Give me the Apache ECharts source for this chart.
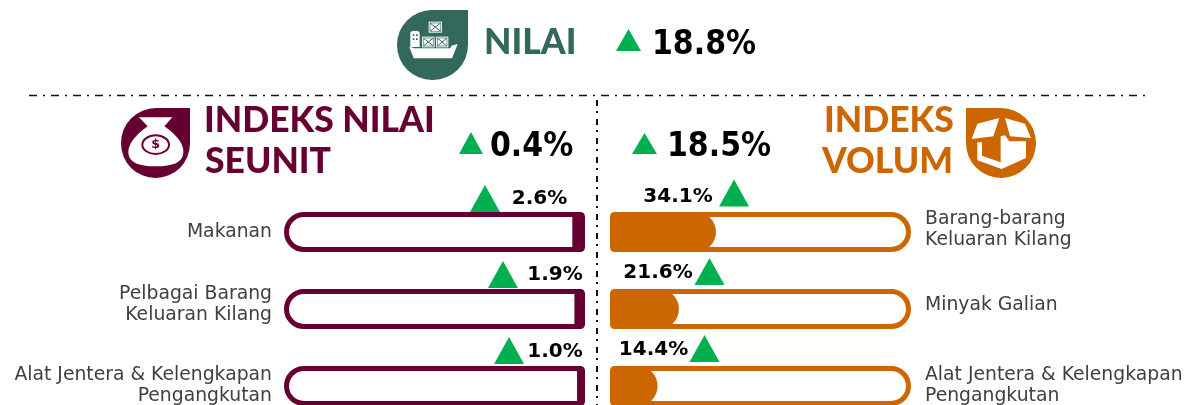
<!DOCTYPE html>
<html>
<head>
<meta charset="utf-8">
<script src="https://cdn.jsdelivr.net/npm/echarts@6/dist/echarts.min.js"></script>
<style>
  html, body { margin: 0; padding: 0; background: #fff; }
  #chart { width: 1191px; height: 405px; }
</style>
</head>
<body>
<div id="chart"></div>
<script>
  // data
  const nilaiTotal = 18.8
  const seunitTotal = 0.4
  const volumTotal = 18.5
  const seunitCategories = ['Makanan', 'Pelbagai Barang\nKeluaran Kilang', 'Alat Jentera & Kelengkapan\nPengangkutan']
  const seunitValues = [2.6, 1.9, 1.0]
  const volumCategories = ['Barang-barang\nKeluaran Kilang', 'Minyak Galian', 'Alat Jentera & Kelengkapan\nPengangkutan']
  const volumValues = [34.1, 21.6, 14.4]

  // colours
  const GREEN = '#33695a'
  const MAROON = '#660033'
  const ORANGE = '#cc6600'
  const UP = '#00b050'
  const LABEL_FONT = '"DejaVu Sans"'
  const HEAD_FONT = 'Lato'

  // offsets (px) of the arrow and the percent label from the end of each bar
  const seunitArrow = [[-87.3, -33.5], [-71.4, -34.5], [-68, -35.5]]
  const seunitText = [[-32.8, -33], [-19.4, -34], [-22, -34]]
  const volumArrow = [[18.1, -39], [30.6, -37.5], [46.9, -37.5]]
  const volumText = [[-37.9, -35], [-20.9, -36], [-4.1, -36]]
  // category labels sit a little above the bar centre
  const seunitLift = [0, 4, 0]
  const volumLift = [2.5, 4, 0.5]

  const chart = echarts.init(document.getElementById('chart'))

  // the graphic component has no plain path type, so register the icon outlines
  echarts.graphic.registerShape('bagOutline', echarts.graphic.extendPath(
    'M72 43 L172 43 L148 70 C185 95 208 125 205 150 C203 178 175 190 122 190 C70 190 42 178 40 150 C38 125 62 95 98 70 Z'
  ))
  echarts.graphic.registerShape('coinRing', echarts.graphic.extendPath(
    'M82 125 A40 28 0 1 1 162 125 A40 28 0 1 1 82 125 Z'
  ))

  /** white track behind a panel, on its own grid so the fill can start after the border */
  const trackSeries = (idx, values, color, radius) => ({
    type: 'bar',
    xAxisIndex: idx,
    yAxisIndex: idx,
    data: values.map(() => 100),
    barWidth: 40,
    silent: true,
    itemStyle: { color: '#fff', borderColor: color, borderWidth: 5, borderRadius: radius }
  })

  /** fill, arrows and percent labels of a panel */
  const panelSeries = (idx, values, color, fillRadius, arrows, texts) => [
    {
      type: 'bar',
      xAxisIndex: idx,
      yAxisIndex: idx,
      data: values,
      barWidth: 40,
      silent: true,
      itemStyle: { color: color, borderRadius: fillRadius }
    },
    {
      type: 'scatter',
      xAxisIndex: idx,
      yAxisIndex: idx,
      silent: true,
      symbol: 'triangle',
      symbolSize: [30, 27],
      itemStyle: { color: UP, opacity: 1 },
      data: values.map((v, i) => ({ value: [v, i], symbolOffset: arrows[i] })),
      z: 5
    },
    {
      type: 'scatter',
      xAxisIndex: idx,
      yAxisIndex: idx,
      silent: true,
      symbolSize: 1,
      itemStyle: { color: 'transparent', opacity: 1 },
      data: values.map((v, i) => ({
        value: [v, i],
        label: { offset: texts[i] }
      })),
      label: {
        show: true,
        position: 'inside',
        formatter: (p) => p.value[0].toFixed(1) + '%',
        fontFamily: LABEL_FONT,
        fontWeight: 'bold',
        fontSize: 20,
        color: '#000',
        textBorderWidth: 0
      },
      z: 6
    }
  ]

  const categoryAxis = (idx, names, lifts, position, margin) => {
    const rich = { t: { fontFamily: LABEL_FONT, fontSize: 18.8, lineHeight: 21, color: '#404040' } }
    lifts.forEach((l, i) => {
      rich['g' + i] = { fontSize: 1, lineHeight: l * 2 }
    })
    return {
      type: 'category',
      gridIndex: idx,
      inverse: true,
      position: position,
      data: names,
      axisLine: { show: false },
      axisTick: { show: false },
      axisLabel: {
        interval: 0,
        margin: margin,
        rich: rich,
        // a blank last line lifts the block above the bar centre
        formatter: (value, i) => {
          const lines = value.split('\n').map((l) => `{t|${l}}`).join('\n')
          return lifts[i] > 0 ? `${lines}\n{g${i}|\u00a0}` : lines
        }
      }
    }
  }
  const hiddenCategory = (idx, names) => ({ type: 'category', gridIndex: idx, inverse: true, data: names, show: false })

  const headText = (text, x, y, color) => ({
    type: 'text',
    x: x,
    y: y,
    style: { text: text, fill: color, font: `900 35.5px ${HEAD_FONT}`, textVerticalAlign: 'middle' }
  })
  const pctText = (value, x, y) => ({
    type: 'text',
    x: x,
    y: y,
    scaleY: 1.12,
    style: { text: value.toFixed(1) + '%', fill: '#000', font: `bold 30px ${LABEL_FONT}`, textVerticalAlign: 'middle' }
  })
  const upArrow = (x0, x1, y0, y1) => ({
    type: 'polygon',
    shape: { points: [[(x0 + x1) / 2, y0], [x1, y1], [x0, y1]] },
    style: { fill: UP }
  })

  // icons are authored at 3x and scaled down
  const iconGroup = (x, y, children) => ({ type: 'group', x: x, y: y, scaleX: 1 / 3, scaleY: 1 / 3, children: children })
  const poly = (points, fill) => ({ type: 'polygon', shape: { points: points }, style: { fill: fill } })
  const crate = (x, y, w, h) => ({
    type: 'group',
    children: [
      { type: 'rect', shape: { x: x, y: y, width: w, height: h }, style: { fill: '#fff' } },
      { type: 'rect', shape: { x: x + 4, y: y + 4, width: w - 8, height: h - 8 }, style: { fill: 'none', stroke: GREEN, lineWidth: 2 } },
      { type: 'line', shape: { x1: x + 4, y1: y + 4, x2: x + w - 4, y2: y + h - 4 }, style: { stroke: GREEN, lineWidth: 3 } },
      { type: 'line', shape: { x1: x + w - 4, y1: y + 4, x2: x + 4, y2: y + h - 4 }, style: { stroke: GREEN, lineWidth: 3 } }
    ]
  })

  const shipIcon = iconGroup(392, 5, [
    { type: 'rect', shape: { x: 15, y: 15, width: 213, height: 210, r: [105, 0, 105, 105] }, style: { fill: GREEN } },
    poly([[52, 125], [68, 130], [175, 130], [178, 122], [197, 117], [180, 160], [65, 160]], '#fff'),
    { type: 'rect', shape: { x: 55, y: 78, width: 28, height: 48, r: [8, 8, 0, 0] }, style: { fill: '#fff' } },
    { type: 'rect', shape: { x: 62, y: 88, width: 5, height: 5 }, style: { fill: GREEN } },
    { type: 'rect', shape: { x: 72, y: 88, width: 5, height: 5 }, style: { fill: GREEN } },
    { type: 'rect', shape: { x: 62, y: 100, width: 5, height: 5 }, style: { fill: GREEN } },
    { type: 'rect', shape: { x: 72, y: 100, width: 5, height: 5 }, style: { fill: GREEN } },
    crate(110, 50, 40, 33),
    crate(90, 95, 38, 32),
    crate(132, 95, 37, 32)
  ])

  const bagIcon = iconGroup(115, 103, [
    { type: 'rect', shape: { x: 18, y: 15, width: 207, height: 210, r: [105, 0, 105, 105] }, style: { fill: MAROON } },
    { type: 'bagOutline', style: { fill: '#fff' } },
    { type: 'coinRing', style: { fill: 'none', stroke: MAROON, lineWidth: 6 } },
    {
      type: 'text',
      x: 122,
      y: 126,
      style: { text: '$', fill: MAROON, font: `bold 38px ${LABEL_FONT}`, textAlign: 'center', textVerticalAlign: 'middle' }
    }
  ])

  const boxIcon = iconGroup(960, 103, [
    { type: 'rect', shape: { x: 18, y: 15, width: 210, height: 210, r: [0, 105, 105, 105] }, style: { fill: ORANGE } },
    poly([[52, 62], [118, 45], [100, 100], [35, 108]], '#fff'),
    poly([[135, 45], [195, 62], [213, 105], [150, 100]], '#fff'),
    poly([[135, 97], [148, 115], [198, 115], [198, 165], [125, 198], [52, 172], [52, 118], [66, 118], [66, 158], [122, 178], [122, 100]], '#fff')
  ])

  const graphics = [
    { type: 'line', shape: { x1: 29, y1: 95.5, x2: 1148, y2: 95.5 }, style: { stroke: '#111', lineWidth: 1.5, lineDash: [8, 6, 2, 6] } },
    { type: 'line', shape: { x1: 597, y1: 100, x2: 597, y2: 405 }, style: { stroke: '#111', lineWidth: 2, lineDash: [6, 5, 2, 6] } },
    shipIcon,
    bagIcon,
    boxIcon,
    headText('NILAI', 484, 43, GREEN),
    upArrow(616, 641, 29, 51),
    pctText(nilaiTotal, 652, 45),
    headText('INDEKS NILAI', 204, 121, MAROON),
    headText('SEUNIT', 205, 162, MAROON),
    upArrow(459, 483, 132, 154),
    pctText(seunitTotal, 490, 147),
    upArrow(632, 657, 133, 154),
    pctText(volumTotal, 667, 147),
    headText('INDEKS', 824, 121, ORANGE),
    headText('VOLUM', 822, 162, ORANGE)
  ]

  const rowGrid = (left, width) => ({ left: left, top: 193.5, width: width, height: 231, outerBoundsMode: 'none' })

  chart.setOption({
    animation: false,
    backgroundColor: '#fff',
    grid: [rowGrid(284, 296), rowGrid(615, 296), rowGrid(284, 301), rowGrid(610, 301)],
    xAxis: [
      { type: 'value', gridIndex: 0, min: 0, max: 100, inverse: true, show: false },
      { type: 'value', gridIndex: 1, min: 0, max: 100, show: false },
      { type: 'value', gridIndex: 2, min: 0, max: 100, inverse: true, show: false },
      { type: 'value', gridIndex: 3, min: 0, max: 100, show: false }
    ],
    yAxis: [
      categoryAxis(0, seunitCategories, seunitLift, 'left', 12),
      categoryAxis(1, volumCategories, volumLift, 'right', 14),
      hiddenCategory(2, seunitCategories),
      hiddenCategory(3, volumCategories)
    ],
    series: [
      trackSeries(2, seunitValues, MAROON, [20, 2, 2, 20]),
      trackSeries(3, volumValues, ORANGE, [2, 20, 20, 2]),
      ...panelSeries(0, seunitValues, MAROON, [0, 2, 2, 0], seunitArrow, seunitText),
      ...panelSeries(1, volumValues, ORANGE, [2, 20, 20, 2], volumArrow, volumText)
    ],
    graphic: graphics
  })
</script>
</body>
</html>
